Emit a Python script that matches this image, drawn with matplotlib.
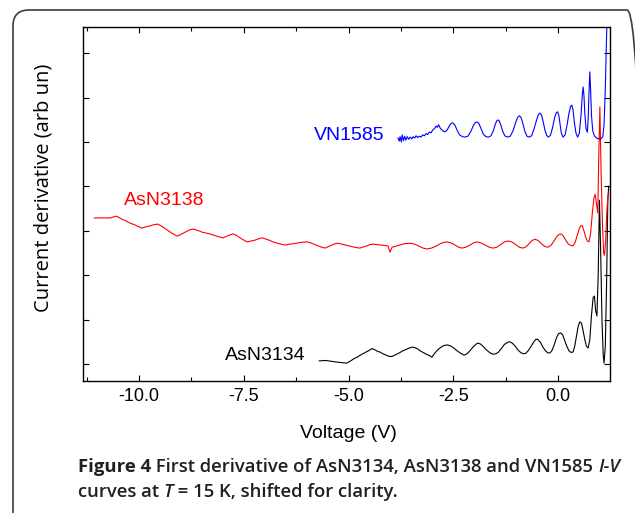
import matplotlib
matplotlib.use("Agg")
import matplotlib.pyplot as plt
from matplotlib.patches import FancyBboxPatch
from matplotlib.transforms import IdentityTransform
from matplotlib.ticker import MultipleLocator, FixedLocator

# ---- data ----
v_3134 = [-5.70, -5.55, -5.40, -5.25, -5.04, -4.95, -4.87, -4.80, -4.72, -4.64, -4.56, -4.50,
          -4.44, -4.40, -4.35, -4.30, -4.25, -4.18, -4.10, -4.03, -3.96, -3.90, -3.83, -3.77,
          -3.70, -3.62, -3.55, -3.48, -3.42, -3.35, -3.28, -3.20, -3.12, -3.05, -3.01, -2.97,
          -2.90, -2.82, -2.74, -2.65, -2.57, -2.49, -2.40, -2.32, -2.24, -2.17, -2.10, -2.02,
          -1.95, -1.91, -1.85, -1.78, -1.70, -1.62, -1.55, -1.48, -1.42, -1.35, -1.28, -1.20,
          -1.15, -1.09, -1.02, -0.95, -0.88, -0.82, -0.77, -0.71, -0.64, -0.57, -0.52, -0.48,
          -0.42, -0.36, -0.30, -0.24, -0.19, -0.14, -0.09, -0.04, 0.01, 0.06, 0.11, 0.16,
          0.21, 0.26, 0.31, 0.36, 0.40, 0.44, 0.48, 0.52, 0.56, 0.60, 0.64, 0.68, 0.72, 0.76,
          0.80, 0.84, 0.87, 0.90, 0.93, 0.96, 0.99, 1.02, 1.05, 1.08, 1.10, 1.13, 1.16, 1.19,
          1.21]
d_3134 = [0.07, 0.08, 0.06, 0.04, 0.02, 0.07, 0.12, 0.15, 0.20, 0.24, 0.28, 0.31,
          0.35, 0.33, 0.31, 0.28, 0.27, 0.23, 0.20, 0.17, 0.17, 0.20, 0.23, 0.26,
          0.30, 0.33, 0.36, 0.38, 0.37, 0.34, 0.29, 0.25, 0.21, 0.18, 0.15, 0.21,
          0.29, 0.36, 0.41, 0.43, 0.41, 0.36, 0.29, 0.24, 0.20, 0.23, 0.30, 0.39,
          0.45, 0.47, 0.45, 0.39, 0.31, 0.25, 0.22, 0.23, 0.27, 0.35, 0.44, 0.49,
          0.50, 0.47, 0.40, 0.31, 0.25, 0.23, 0.24, 0.30, 0.40, 0.51, 0.56, 0.55,
          0.49, 0.38, 0.30, 0.25, 0.25, 0.31, 0.43, 0.58, 0.68, 0.70, 0.66, 0.53,
          0.40, 0.30, 0.26, 0.27, 0.40, 0.62, 0.84, 0.95, 0.92, 0.75, 0.55, 0.40, 0.36, 0.55,
          1.10, 1.50, 1.53, 1.20, 1.08, 2.00, 3.69, 2.50, 1.00, 0.20, 0.02, 0.40, 1.80, 3.69,
          4.00]

v_3138 = [-11.07, -10.69, -10.62, -10.55, -10.48, -10.41, -10.31, -10.21, -10.12, -10.03,
          -9.93, -9.84, -9.74, -9.64, -9.55, -9.44, -9.33, -9.21, -9.09, -9.00, -8.90, -8.80,
          -8.71, -8.60, -8.50, -8.40, -8.31, -8.15, -8.00, -7.88, -7.76, -7.68, -7.59, -7.50,
          -7.42, -7.33, -7.23, -7.15, -7.06, -6.93, -6.80, -6.66, -6.52, -6.39, -6.25, -6.12,
          -5.99, -5.88, -5.78, -5.67, -5.56, -5.47, -5.39, -5.32, -5.25, -5.12, -4.99, -4.86,
          -4.73, -4.64, -4.56, -4.49, -4.42, -4.33, -4.25, -4.15, -4.06, -4.01, -3.96, -3.88,
          -3.78, -3.66, -3.53, -3.42, -3.31, -3.22, -3.13, -3.02, -2.90, -2.79, -2.67, -2.56,
          -2.46, -2.37, -2.29, -2.20, -2.10, -2.01, -1.93, -1.84, -1.74, -1.64, -1.55, -1.46,
          -1.37, -1.28, -1.19, -1.10, -1.01, -0.92, -0.84, -0.76, -0.69, -0.62, -0.55, -0.47,
          -0.40, -0.32, -0.24, -0.17, -0.10, -0.03, 0.03, 0.07, 0.12, 0.18, 0.24, 0.30, 0.36,
          0.41, 0.46, 0.51, 0.55, 0.58, 0.62, 0.66, 0.70, 0.74, 0.78, 0.82, 0.86, 0.89, 0.92,
          0.95, 0.97, 1.00, 1.03, 1.06, 1.09, 1.11, 1.14, 1.17, 1.20]
d_3138 = [3.29, 3.29, 3.31, 3.33, 3.30, 3.26, 3.22, 3.17, 3.14, 3.10,
          3.06, 3.09, 3.11, 3.14, 3.15, 3.09, 3.02, 2.94, 2.88, 2.92, 2.97, 3.02,
          3.04, 3.01, 2.97, 2.95, 2.93, 2.88, 2.84, 2.89, 2.93, 2.90, 2.84, 2.79,
          2.75, 2.77, 2.79, 2.82, 2.84, 2.80, 2.75, 2.71, 2.68, 2.70, 2.72, 2.74,
          2.75, 2.72, 2.68, 2.64, 2.61, 2.65, 2.68, 2.71, 2.72, 2.69, 2.66, 2.63,
          2.61, 2.64, 2.66, 2.69, 2.70, 2.69, 2.68, 2.67, 2.66, 2.52, 2.63, 2.65,
          2.68, 2.71, 2.72, 2.70, 2.65, 2.61, 2.59, 2.61, 2.66, 2.72, 2.75, 2.73,
          2.68, 2.63, 2.61, 2.63, 2.68, 2.73, 2.75, 2.73, 2.68, 2.63, 2.61, 2.63,
          2.69, 2.75, 2.77, 2.75, 2.69, 2.63, 2.61, 2.64, 2.71, 2.78, 2.81, 2.78,
          2.71, 2.65, 2.63, 2.67, 2.76, 2.87, 2.92, 2.93, 2.89, 2.80, 2.71, 2.67, 2.66,
          2.74, 2.90, 3.05, 3.12, 3.11, 3.00, 2.86, 2.77, 2.75, 2.95, 3.40, 3.75, 3.82, 3.60,
          3.40, 4.50, 5.79, 4.30, 3.20, 2.50, 2.45, 2.80, 3.50, 3.83]

v_1585 = [-3.82, -3.79, -3.77, -3.74, -3.72, -3.69, -3.66, -3.63, -3.60, -3.56, -3.53, -3.49,
          -3.46, -3.42, -3.39, -3.35, -3.31, -3.27, -3.23, -3.19, -3.15, -3.11, -3.07, -3.03,
          -2.99, -2.95, -2.91, -2.88, -2.85, -2.81, -2.77, -2.73, -2.69, -2.64, -2.59, -2.55,
          -2.51, -2.46, -2.41, -2.35, -2.28, -2.22, -2.15, -2.08, -2.01, -1.97, -1.93, -1.89,
          -1.84, -1.78, -1.72, -1.66, -1.60, -1.54, -1.49, -1.45, -1.41, -1.37, -1.32, -1.27,
          -1.21, -1.14, -1.07, -1.01, -0.96, -0.92, -0.88, -0.84, -0.79, -0.74, -0.69, -0.63,
          -0.57, -0.51, -0.46, -0.43, -0.39, -0.35, -0.31, -0.27, -0.23, -0.18, -0.13, -0.08,
          -0.04, -0.01, 0.02, 0.05, 0.08, 0.12, 0.17, 0.22, 0.26, 0.30, 0.33, 0.36, 0.39,
          0.43, 0.47, 0.51, 0.55, 0.58, 0.60, 0.62, 0.64, 0.67, 0.70, 0.72, 0.74, 0.76, 0.78,
          0.80, 0.83, 0.87, 0.92, 0.97, 1.02, 1.07, 1.10, 1.13, 1.16, 1.19]
d_1585 = [5.09, 5.02, 5.12, 5.00, 5.16, 5.03, 5.13, 5.04, 5.12, 5.06, 5.11, 5.07,
          5.12, 5.09, 5.14, 5.10, 5.13, 5.11, 5.16, 5.14, 5.19, 5.17, 5.22, 5.21,
          5.27, 5.30, 5.36, 5.33, 5.39, 5.31, 5.27, 5.24, 5.23, 5.28, 5.37, 5.42,
          5.43, 5.38, 5.27, 5.16, 5.12, 5.11, 5.13, 5.24, 5.39, 5.44, 5.45, 5.42,
          5.31, 5.17, 5.12, 5.11, 5.14, 5.26, 5.42, 5.49, 5.49, 5.40, 5.24, 5.14,
          5.11, 5.13, 5.26, 5.44, 5.56, 5.59, 5.55, 5.42, 5.24, 5.13, 5.11, 5.14,
          5.30, 5.50, 5.63, 5.65, 5.60, 5.44, 5.26, 5.15, 5.11, 5.15, 5.32, 5.55,
          5.66, 5.68, 5.60, 5.40, 5.20, 5.11, 5.16, 5.40, 5.64, 5.80, 5.83, 5.72, 5.45,
          5.20, 5.11, 5.20, 5.60, 6.05, 6.24, 6.05, 5.65, 5.30, 5.22, 5.50, 6.10, 6.58, 6.15,
          5.60, 5.25, 5.14, 5.09, 5.07, 5.07, 5.12, 5.40, 6.20, 7.40, 8.30]

x_ticks = [-10.0, -7.5, -5.0, -2.5, 0.0]
x_ticklabels = ["-10.0", "-7.5", "-5.0", "-2.5", "0.0"]
y_ticks = [0, 1, 2, 3, 4, 5, 6, 7]

W, H = 635, 513
fig = plt.figure(figsize=(W / 100, H / 100), dpi=100)

# rounded frame around the figure panel (right side runs just past the image edge)
frame = FancyBboxPatch((13, -30), 630, 533, boxstyle="round,pad=0,rounding_size=16",
                       transform=IdentityTransform(), fill=False, edgecolor="#3c3c3c",
                       linewidth=1.2, clip_on=False)
fig.patches.append(frame)

ax = fig.add_axes([83 / W, (H - 381) / H, (609.5 - 83) / W, (381 - 27) / H])
ax.plot(v_3134, d_3134, color="black", lw=0.8)
ax.plot(v_3138, d_3138, color="#ff0000", lw=0.8)
ax.plot(v_1585, d_1585, color="#0000ff", lw=0.8)

ax.set_xlim(-11.34, 1.23)
ax.set_ylim(-0.383, 7.59)
ax.xaxis.set_major_locator(FixedLocator(x_ticks))
ax.set_xticklabels(x_ticklabels)
ax.xaxis.set_minor_locator(MultipleLocator(1.25))
ax.yaxis.set_major_locator(FixedLocator(y_ticks))
ax.set_yticklabels([])
ax.tick_params(which="both", direction="in", top=True, right=True, width=0.8,
               labelsize=13, pad=5)
ax.tick_params(which="major", length=4.5)
ax.tick_params(which="minor", length=3)
for lab in ax.get_xticklabels():
    lab.set_family("Liberation Sans")
for s in ax.spines.values():
    s.set_linewidth(1.0)

tf = dict(family="Liberation Sans", fontsize=14, ha="center", va="center")
ax.text(-4.99, 5.14, "VN1585", color="#0000ff", **tf)
ax.text(-9.40, 3.69, "AsN3138", color="#ff0000", **tf)
ax.text(-6.99, 0.20, "AsN3134", color="black", **tf)

fig.text(348 / W, 1 - 433 / H, "Voltage (V)", family="Liberation Sans", fontsize=14,
         ha="center", va="center")
fig.text(44 / W, 1 - 188 / H, "Current derivative (arb un)", family="Open Sans",
         fontsize=14.5, rotation=90, ha="center", va="center")

# caption with mixed styles
renderer = fig.canvas.get_renderer()
cap_color = "#231f20"
def draw_line(pieces, x0, y0):
    x = x0
    for txt, weight, style in pieces:
        t = fig.text(x / W, 1 - y0 / H, txt, family="Open Sans", fontsize=13.3,
                     fontweight=weight, fontstyle=style, color=cap_color,
                     ha="left", va="baseline")
        bb = t.get_window_extent(renderer)
        x += bb.width

draw_line([("Figure 4", "bold", "normal"),
           (" First derivative of AsN3134, AsN3138 and VN1585 ", "semibold", "normal"),
           ("I-V", "semibold", "italic")], 78, 472)
draw_line([("curves at ", "semibold", "normal"), ("T", "semibold", "italic"),
           (" = 15 K, shifted for clarity.", "semibold", "normal")], 78, 497)

fig.savefig("out.png", dpi=100)
